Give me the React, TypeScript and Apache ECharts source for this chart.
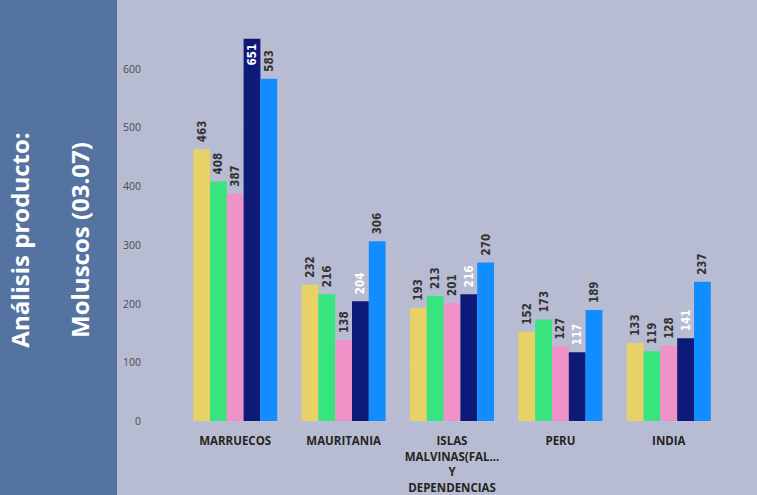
import React, { useEffect, useRef } from "react";
import * as echarts from "echarts";

const categories = ["MARRUECOS", "MAURITANIA", "ISLAS\nMALVINAS(FAL...\nY\nDEPENDENCIAS", "PERU", "INDIA"];
const seriesNames = ["Serie 1", "Serie 2", "Serie 3", "Serie 4", "Serie 5"];
const serie1 = [463, 232, 193, 152, 133];
const serie2 = [408, 216, 213, 173, 119];
const serie3 = [387, 138, 201, 127, 128];
const serie4 = [651, 204, 216, 117, 141];
const serie5 = [583, 306, 270, 189, 237];
const yTicks = [0, 100, 200, 300, 400, 500, 600];
const sideTitle = ["Análisis producto:", "Moluscos (03.07)"];

const colors = ["#E8D166", "#37E47D", "#EE92C8", "#0E1A78", "#118DFF"];
const labelColors = ["#333333", "#333333", "#333333", "#FFFFFF", "#333333"];

export default function App() {
  const ref = useRef<HTMLDivElement>(null);
  useEffect(() => {
    if (!ref.current) return;
    const chart = echarts.init(ref.current, undefined, { renderer: "svg" });
    const allData = [serie1, serie2, serie3, serie4, serie5];
    const yMax = 700;
    const series = allData.map((d, i) => ({
      type: "bar",
      name: seriesNames[i],
      barGap: "0%",
      barCategoryGap: "22.5%",
      itemStyle: { color: colors[i] },
      label: {
        show: true,
        position: "top",
        rotate: 90,
        align: "left",
        verticalAlign: "middle",
        distance: 7,
        color: labelColors[i],
        fontFamily: "DejaVu Sans Condensed",
        fontWeight: "bold",
        fontSize: 11.5,
      },
      data: d.map((v) =>
        v > yMax - 60
          ? {
              value: v,
              label: { position: "insideTop", align: "right", color: "#FFFFFF", distance: 5 },
            }
          : v
      ),
    }));
    chart.setOption({
      animation: false,
      backgroundColor: "#B8BCD2",
      grid: { left: 181, right: 34, top: 10, bottom: 74, containLabel: false, outerBoundsMode: "none" },
      graphic: [
        { type: "rect", left: 0, top: 0, shape: { width: 117, height: 495 }, style: { fill: "#5473A0" } },
        {
          type: "text",
          x: 19,
          y: 240,
          rotation: Math.PI / 2,
          style: {
            text: sideTitle[0],
            fill: "#FFFFFF",
            font: "bold 24px 'Open Sans'",
            align: "center",
            verticalAlign: "middle",
          },
        },
        {
          type: "text",
          x: 79,
          y: 240,
          rotation: Math.PI / 2,
          style: {
            text: sideTitle[1],
            fill: "#FFFFFF",
            font: "bold 24px 'Open Sans'",
            align: "center",
            verticalAlign: "middle",
          },
        },
      ],
      xAxis: {
        type: "category",
        data: categories,
        axisLine: { show: false },
        axisTick: { show: false },
        axisLabel: {
          interval: 0,
          margin: 12,
          color: "#252423",
          fontFamily: "Open Sans",
          fontWeight: "bold",
          fontSize: 11.5,
          lineHeight: 15.5,
        },
      },
      yAxis: {
        type: "value",
        min: 0,
        max: yMax,
        interval: 100,
        axisLine: { show: false },
        axisTick: { show: false },
        splitLine: {
          show: true,
          showMaxLine: false,
          lineStyle: { color: "rgba(255,255,255,0.08)", type: "dotted" },
        },
        axisLabel: {
          margin: 40,
          color: "#4A4A4A",
          fontFamily: "Open Sans",
          fontSize: 10.5,
          formatter: (v: number) => (yTicks.includes(v) ? String(v) : ""),
        },
      },
      series,
    });
    return () => chart.dispose();
  }, []);
  return <div ref={ref} style={{ position: "fixed", left: 0, top: 0, width: 757, height: 495 }} />;
}
